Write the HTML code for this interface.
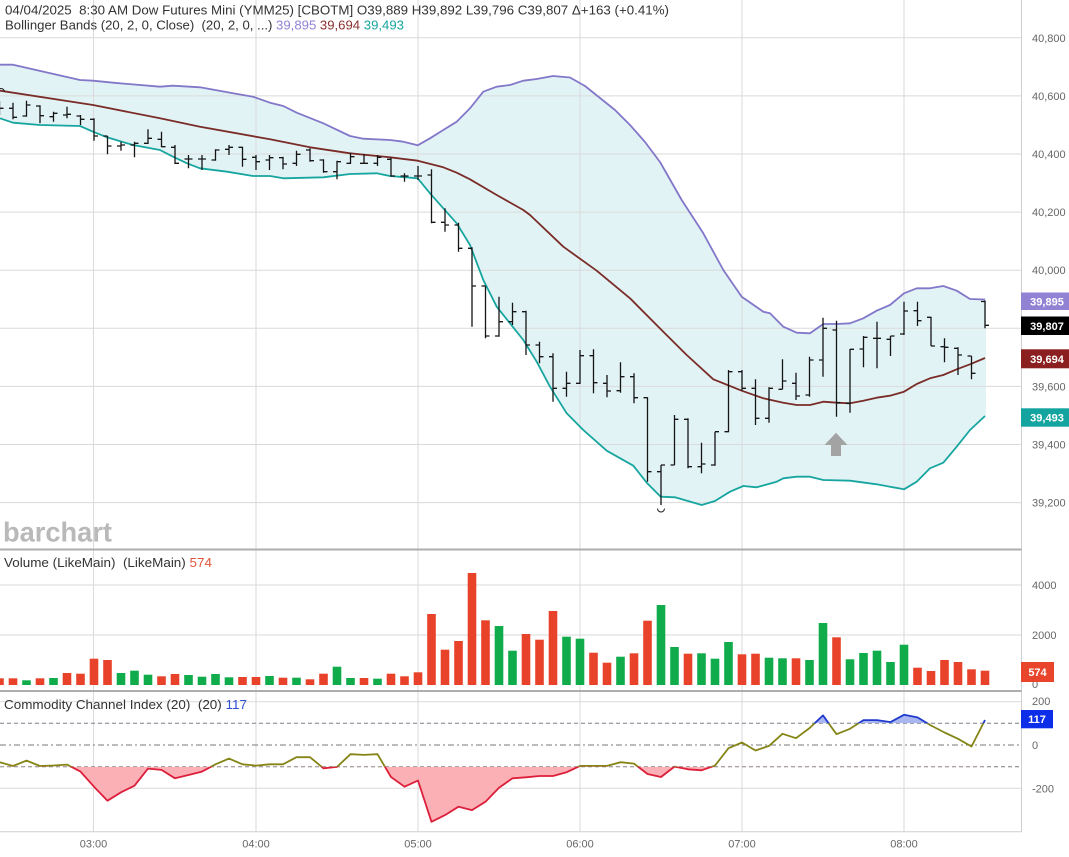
<!DOCTYPE html>
<html><head><meta charset="utf-8"><style>
html,body{margin:0;padding:0;background:#fff;}
svg{display:block;}
text{font-family:"Liberation Sans",sans-serif;}
</style></head><body>
<svg width="1069" height="857" viewBox="0 0 1069 857" xmlns="http://www.w3.org/2000/svg">
<defs>
<clipPath id="plot"><rect x="0" y="0" width="1021.5" height="548"/></clipPath>
<clipPath id="cOl"><rect x="0" y="723.3" width="1021.5" height="43.4"/></clipPath>
<clipPath id="cRd"><rect x="0" y="766.7" width="1021.5" height="65"/></clipPath>
<clipPath id="cBl"><rect x="0" y="692" width="1021.5" height="31.3"/></clipPath>
</defs>
<rect width="1069" height="857" fill="#fff"/>

<!-- band fill -->
<g clip-path="url(#plot)">
<polygon fill="#e2f3f5" points="0,64.7 13,64.7 80,80 93,80.7 113,82.7 160,86.7 173,85.7 200,87.3 233,93.3 253,96.7 270,102.7 283.3,106 296.7,112.7 323.3,123.3 350,136 363.3,138.7 390,140 403.3,141.7 417.7,145.3 430,138.3 443.3,130 456.7,121.7 470,108.3 483.3,91.7 496.7,86.7 510,85 523.3,80.7 536.7,79 553,76 570,77.5 585,86 600,98 615,110 630,125 645,142 660,162 672,183 681.7,200 703.3,233.3 723.3,270 741.7,296.7 763.3,311.7 770,313.3 783.3,326.7 796.7,332.7 810,333.3 823.3,324 836.7,324 850,323.3 863.3,318.3 876.7,310.7 890,305 904,293.3 916.7,288.3 930,288.3 943.3,286 956.7,290.7 970,299 986,299.5 986,416 970,430 956.7,446.7 943.3,462.7 930,468.3 916.7,481.7 904,489.3 876.7,484.3 850,480.7 823.3,480 810,476.7 796.7,476.7 783.3,478.3 776.7,481.7 756.7,487.3 743.3,486 730,491.7 715,501 701.7,505 675,497.3 660.7,496.7 646.7,482.7 633.3,465.7 606.7,450.7 583.3,430 566.7,413.3 550,386.7 536.7,361.7 523.3,340 510,323.3 496.7,306.7 483.3,280 470,245 456.7,223.3 443.3,208.3 430,193.3 417.7,178.3 390,176 376.7,173.3 350,174 323.3,177.3 283.3,178.3 270,176 253,176 227,171.7 200,168.3 187,163.3 173,156.7 160,150 133,145 107,137.3 93,131.7 80,126 40,125 13,122.7 0,118.3"/>
</g>

<!-- grid -->
<g stroke="#dadada" stroke-width="1">
<line x1="93.5" y1="0" x2="93.5" y2="832"/>
<line x1="256" y1="0" x2="256" y2="832"/>
<line x1="418" y1="0" x2="418" y2="832"/>
<line x1="580" y1="0" x2="580" y2="832"/>
<line x1="742" y1="0" x2="742" y2="832"/>
<line x1="904" y1="0" x2="904" y2="832"/>
<line x1="0" y1="37.8" x2="1021.5" y2="37.8"/>
<line x1="0" y1="95.9" x2="1021.5" y2="95.9"/>
<line x1="0" y1="154" x2="1021.5" y2="154"/>
<line x1="0" y1="212.1" x2="1021.5" y2="212.1"/>
<line x1="0" y1="270.2" x2="1021.5" y2="270.2"/>
<line x1="0" y1="328.3" x2="1021.5" y2="328.3"/>
<line x1="0" y1="386.4" x2="1021.5" y2="386.4"/>
<line x1="0" y1="444.5" x2="1021.5" y2="444.5"/>
<line x1="0" y1="502.6" x2="1021.5" y2="502.6"/>
<line x1="0" y1="585" x2="1021.5" y2="585"/>
<line x1="0" y1="635" x2="1021.5" y2="635"/>
<line x1="0" y1="701.7" x2="1021.5" y2="701.7"/>
<line x1="0" y1="788.3" x2="1021.5" y2="788.3"/>
</g>
<line x1="0" y1="831.7" x2="1021.5" y2="831.7" stroke="#cfcfcf" stroke-width="1"/>
<line x1="1021.5" y1="0" x2="1021.5" y2="832" stroke="#cfcfcf" stroke-width="1"/>
<line x1="0" y1="549.5" x2="1021.5" y2="549.5" stroke="#adadad" stroke-width="2"/>
<line x1="0" y1="691" x2="1021.5" y2="691" stroke="#adadad" stroke-width="2"/>

<!-- bollinger lines -->
<g clip-path="url(#plot)" fill="none" stroke-width="1.8" stroke-linejoin="round">
<polyline stroke="#8277c9" points="0,64.7 13,64.7 80,80 93,80.7 113,82.7 160,86.7 173,85.7 200,87.3 233,93.3 253,96.7 270,102.7 283.3,106 296.7,112.7 323.3,123.3 350,136 363.3,138.7 390,140 403.3,141.7 417.7,145.3 430,138.3 443.3,130 456.7,121.7 470,108.3 483.3,91.7 496.7,86.7 510,85 523.3,80.7 536.7,79 553,76 570,77.5 585,86 600,98 615,110 630,125 645,142 660,162 672,183 681.7,200 703.3,233.3 723.3,270 741.7,296.7 763.3,311.7 770,313.3 783.3,326.7 796.7,332.7 810,333.3 823.3,324 836.7,324 850,323.3 863.3,318.3 876.7,310.7 890,305 904,293.3 916.7,288.3 930,288.3 943.3,286 956.7,290.7 970,299 985,299.5"/>
<polyline stroke="#7a2c28" points="0,90.7 93,105 160,118.3 200,126.7 270,139.3 310,147.3 350,153.3 390,157.3 417.7,160.7 443.3,167.3 456.7,172.7 470,179.3 496.7,195 523.3,210 530,215 563.3,246.7 596.7,270.7 630,298.3 663.3,331.7 686.7,355 713.3,379.3 741.7,390.7 763.3,398.3 783.3,402.7 796.7,405 810,405 823.3,401.7 836.7,402.7 850,403.3 863.3,400.7 876.7,397.7 890,395.7 904,391.7 916.7,384 930,378.3 943.3,375 956.7,369.3 970,364.3 985,358"/>
<polyline stroke="#17a5a0" points="0,118.3 13,122.7 40,125 80,126 93,131.7 107,137.3 133,145 160,150 173,156.7 187,163.3 200,168.3 227,171.7 253,176 270,176 283.3,178.3 323.3,177.3 350,174 376.7,173.3 390,176 417.7,178.3 430,193.3 443.3,208.3 456.7,223.3 470,245 483.3,280 496.7,306.7 510,323.3 523.3,340 536.7,361.7 550,386.7 566.7,413.3 583.3,430 606.7,450.7 633.3,465.7 646.7,482.7 660.7,496.7 675,497.3 701.7,505 715,501 730,491.7 743.3,486 756.7,487.3 776.7,481.7 783.3,478.3 796.7,476.7 810,476.7 823.3,480 850,480.7 876.7,484.3 904,489.3 916.7,481.7 930,468.3 943.3,462.7 956.7,446.7 970,430 985,416"/>
</g>

<!-- price bars -->
<path clip-path="url(#plot)" fill="none" stroke="#151515" stroke-width="1.3" d="M-0.5 101V115M-0.5 108.3H3.5
M13 102.7V119.3M9 108.3H13M13 117.3H17
M26.5 100.7V116.7M22.5 116H26.5M26.5 105H30.5
M40 105.3V123.3M36 106H40M40 115.7H44
M53.5 111.7V121.7M49.5 116.7H53.5M53.5 113.3H57.5
M67 106.7V118.3M63 115H67M67 114.3H71
M80.5 115V125M76.5 116H80.5M80.5 119.3H84.5
M94 118.3V140.7M90 119.3H94M94 136H98
M107.5 136V154.3M103.5 136H107.5M107.5 146H111.5
M121 141.7V150.7M117 146H121M121 145H125
M134.5 141.7V157.3M130.5 145H134.5M134.5 143.3H138.5
M148 129.3V144M144 143.3H148M148 138.3H152
M161.5 131.7V147.3M157.5 139.3H161.5M161.5 146.7H165.5
M175 145V164M171 147.3H175M175 163.3H179
M188.5 155V168.3M184.5 159H188.5M188.5 159H192.5
M202 155V170M198 159H202M202 159H206
M215.5 149.3V160.7M211.5 160H215.5M215.5 150H219.5
M229 145V155M225 149.3H229M229 147.3H233
M242.5 146.7V166.7M238.5 147.3H242.5M242.5 159.3H246.5
M256 155V170M252 157.3H256M256 161.7H260
M269.5 155V170M265.5 160H269.5M269.5 157.7H273.5
M283 156.7V169.3M279 157.7H283M283 164H287
M296.5 150.7V166M292.5 163.3H296.5M296.5 154.3H300.5
M310 148.3V161.7M306 150H310M310 160.7H314
M323.5 159.3V172.7M319.5 160H323.5M323.5 171.7H327.5
M337 160.7V179.3M333 171.7H337M337 161.7H341
M350.5 152.7V164M346.5 163.3H350.5M350.5 156.7H354.5
M364 154V164M360 163.3H364M364 163.3H368
M377.5 155V166M373.5 163.3H377.5M377.5 157.3H381.5
M391 157.7V176.7M387 159.3H391M391 176H395
M404.5 173.3V181.7M400.5 176H404.5M404.5 176H408.5
M418 166V180M414 176H418M418 176H422
M431.5 169.3V223.3M427.5 175H431.5M431.5 222.3H435.5
M445 208.3V231.7M441 222.3H445M445 225H449
M458.5 222.7V251.7M454.5 225H458.5M458.5 248.3H462.5
M472 247.3V326.7M468 248.3H472M472 286H476
M485.5 286V338.3M481.5 286H485.5M485.5 336H489.5
M499 296.7V336.7M495 336H499M499 321.7H503
M512.5 302.7V325M508.5 321.7H512.5M512.5 311.7H516.5
M526 310.7V355M522 311.7H526M526 345H530
M539.5 341.7V363.3M535.5 345H539.5M539.5 356.7H543.5
M553 353.3V401.7M549 356.7H553M553 388.3H557
M566.5 371.7V396.7M562.5 388.3H566.5M566.5 383.3H570.5
M580 350V384M576 383.3H580M580 355.7H584
M593.5 349.3V393.3M589.5 355.7H593.5M593.5 382.7H597.5
M607 375V397.3M603 383.3H607M607 391H611
M620.5 362.3V392.7M616.5 390.7H620.5M620.5 376.7H624.5
M634 373.3V403.3M630 376.7H634M634 397.7H638
M647.5 397.3V481.7M643.5 397.7H647.5M647.5 471.7H651.5
M661 465V505M657 471.7H661M661 465H665
M674.5 415V465M670.5 465H674.5M674.5 419.3H678.5
M688 418.3V468.3M684 419.3H688M688 466.7H692
M701.5 442.7V473.3M697.5 466.7H701.5M701.5 464H705.5
M715 431.7V465.7M711 465H715M715 431.7H719
M728.5 370V432.3M724.5 431.7H728.5M728.5 371.7H732.5
M742 370V390.7M738 371.7H742M742 388.3H746
M755.5 379.3V425M751.5 388.3H755.5M755.5 418.3H759.5
M769 387.3V422.7M765 418.3H769M769 388.3H773
M782.5 359.3V389.3M778.5 389.3H782.5M782.5 381H786.5
M796 372.7V400M792 383.3H796M796 396H800
M809.5 356.7V396.7M805.5 395H809.5M809.5 360H813.5
M823 317.7V376.7M819 360H823M823 328.3H827
M836.5 320.7V416.7M832.5 330H836.5M836.5 402.7H840.5
M850 349V412.7M846 403.3H850M850 349.3H854
M863.5 336V367.3M859.5 349H863.5M863.5 337.3H867.5
M877 321.7V368.3M873 338.3H877M877 338.3H881
M890.5 336V356M886.5 339.3H890.5M890.5 336H894.5
M904 301.7V335M900 334H904M904 311H908
M917.5 301.7V326M913.5 310.7H917.5M917.5 320.7H921.5
M931 316.7V346M927 317.3H931M931 346H935
M944.5 338.3V362.3M940.5 346.7H944.5M944.5 347.3H948.5
M958 347.3V375M954 348.3H958M958 355H962
M971.5 356V379.3M967.5 356H971.5M971.5 373.3H975.5
M985 300.5V328.3M981 301.5H985M985 325.3H989"/>
<path d="M657.5 508.5 A3.5 3.5 0 0 0 664.5 508.5" fill="none" stroke="#222" stroke-width="1"/>
<path d="M-2.5 92 A3.5 3.5 0 0 1 4.5 92" fill="none" stroke="#222" stroke-width="1"/>
<!-- arrow -->
<polygon fill="#a3a3a3" points="836,432.7 847.5,445 841,445 841,456 831,456 831,445 824.5,445"/>

<!-- logo -->
<text x="3" y="541.7" font-size="28" font-weight="bold" fill="#b9b9b9" textLength="109" lengthAdjust="spacingAndGlyphs">barchart</text>

<!-- volume bars -->
<g fill="#e8432a">
<rect x="-4.8" y="678.3" width="8.6" height="6.7"/>
<rect x="8.7" y="678.3" width="8.6" height="6.7"/>
<rect x="35.7" y="678.3" width="8.6" height="6.7"/>
<rect x="62.7" y="673" width="8.6" height="12"/>
<rect x="76.2" y="673.7" width="8.6" height="11.3"/>
<rect x="89.7" y="658.7" width="8.6" height="26.3"/>
<rect x="103.2" y="660" width="8.6" height="25"/>
<rect x="157.2" y="676.3" width="8.6" height="8.7"/>
<rect x="170.7" y="674" width="8.6" height="11"/>
<rect x="238.2" y="677" width="8.6" height="8"/>
<rect x="251.7" y="677" width="8.6" height="8"/>
<rect x="278.7" y="677.7" width="8.6" height="7.3"/>
<rect x="305.7" y="679.3" width="8.6" height="5.7"/>
<rect x="319.2" y="673.7" width="8.6" height="11.3"/>
<rect x="359.7" y="678" width="8.6" height="7"/>
<rect x="386.7" y="673.7" width="8.6" height="11.3"/>
<rect x="400.2" y="676.3" width="8.6" height="8.7"/>
<rect x="413.7" y="672.3" width="8.6" height="12.7"/>
<rect x="427.2" y="614" width="8.6" height="71"/>
<rect x="440.7" y="649.7" width="8.6" height="35.3"/>
<rect x="454.2" y="641" width="8.6" height="44"/>
<rect x="467.7" y="573" width="8.6" height="112"/>
<rect x="481.2" y="620.3" width="8.6" height="64.7"/>
<rect x="521.7" y="634" width="8.6" height="51"/>
<rect x="535.2" y="639.7" width="8.6" height="45.3"/>
<rect x="548.7" y="611" width="8.6" height="74"/>
<rect x="589.2" y="652.7" width="8.6" height="32.3"/>
<rect x="602.7" y="662.7" width="8.6" height="22.3"/>
<rect x="629.7" y="653.3" width="8.6" height="31.7"/>
<rect x="643.2" y="620.7" width="8.6" height="64.3"/>
<rect x="683.7" y="653.7" width="8.6" height="31.3"/>
<rect x="737.7" y="654.3" width="8.6" height="30.7"/>
<rect x="751.2" y="653.7" width="8.6" height="31.3"/>
<rect x="791.7" y="658.3" width="8.6" height="26.7"/>
<rect x="832.2" y="637.3" width="8.6" height="47.7"/>
<rect x="913.2" y="667.7" width="8.6" height="17.3"/>
<rect x="926.7" y="671" width="8.6" height="14"/>
<rect x="940.2" y="660" width="8.6" height="25"/>
<rect x="953.7" y="662" width="8.6" height="23"/>
<rect x="967.2" y="669.3" width="8.6" height="15.7"/>
<rect x="980.7" y="670.7" width="8.6" height="14.3"/>
</g>
<g fill="#10ab4a">
<rect x="22.2" y="680.3" width="8.6" height="4.7"/>
<rect x="49.2" y="678" width="8.6" height="7"/>
<rect x="116.7" y="673" width="8.6" height="12"/>
<rect x="130.2" y="670.7" width="8.6" height="14.3"/>
<rect x="143.7" y="674.7" width="8.6" height="10.3"/>
<rect x="184.2" y="675" width="8.6" height="10"/>
<rect x="197.7" y="676.7" width="8.6" height="8.3"/>
<rect x="211.2" y="674" width="8.6" height="11"/>
<rect x="224.7" y="677.3" width="8.6" height="7.7"/>
<rect x="265.2" y="676" width="8.6" height="9"/>
<rect x="292.2" y="677.7" width="8.6" height="7.3"/>
<rect x="332.7" y="666.7" width="8.6" height="18.3"/>
<rect x="346.2" y="678" width="8.6" height="7"/>
<rect x="373.2" y="678.7" width="8.6" height="6.3"/>
<rect x="494.7" y="626" width="8.6" height="59"/>
<rect x="508.2" y="650.7" width="8.6" height="34.3"/>
<rect x="562.2" y="636.7" width="8.6" height="48.3"/>
<rect x="575.7" y="638.7" width="8.6" height="46.3"/>
<rect x="616.2" y="656.7" width="8.6" height="28.3"/>
<rect x="656.7" y="605" width="8.6" height="80"/>
<rect x="670.2" y="647" width="8.6" height="38"/>
<rect x="697.2" y="653.3" width="8.6" height="31.7"/>
<rect x="710.7" y="658.7" width="8.6" height="26.3"/>
<rect x="724.2" y="642" width="8.6" height="43"/>
<rect x="764.7" y="657.7" width="8.6" height="27.3"/>
<rect x="778.2" y="658.3" width="8.6" height="26.7"/>
<rect x="805.2" y="660" width="8.6" height="25"/>
<rect x="818.7" y="623" width="8.6" height="62"/>
<rect x="845.7" y="659.3" width="8.6" height="25.7"/>
<rect x="859.2" y="653" width="8.6" height="32"/>
<rect x="872.7" y="650.7" width="8.6" height="34.3"/>
<rect x="886.2" y="662" width="8.6" height="23"/>
<rect x="899.7" y="644.7" width="8.6" height="40.3"/>
</g>

<!-- CCI reference lines -->
<line x1="0" y1="723.3" x2="1021.5" y2="723.3" stroke="#7a7a7a" stroke-width="1" stroke-dasharray="4,3"/>
<line x1="0" y1="745" x2="1021.5" y2="745" stroke="#7a7a7a" stroke-width="1" stroke-dasharray="6,3,2,3"/>
<line x1="0" y1="766.7" x2="1021.5" y2="766.7" stroke="#7a7a7a" stroke-width="1" stroke-dasharray="4,3"/>

<!-- CCI fills -->
<polygon clip-path="url(#cRd)" fill="#fbb0b6" points="-0.5,762.2 13,766 26.5,760.6 40,766 53.5,765.5 67,764.6 80.5,771.6 94,786.7 107.5,800.7 121,792.3 134.5,785.7 148,768.6 161.5,769.9 175,778.3 188.5,775 202,771.6 215.5,764.3 229,758.6 242.5,764.3 256,765.6 269.5,764.3 283,764.3 296.5,757.2 310,757.2 323.5,768.3 337,766.9 350.5,754.2 364,754.9 377.5,754.2 391,777 404.5,786.7 418,780.6 431.5,821.8 445,815.1 458.5,806.7 472,810.1 485.5,801.7 499,787.7 512.5,778.3 526,777.3 539.5,776 553,776 566.5,772.3 580,765.9 593.5,765.9 607,765.9 620.5,762.2 634,763.6 647.5,774 661,777 674.5,766.6 688,769.3 701.5,770.3 715,765.6 728.5,748.2 742,742.5 755.5,750.5 769,745.9 782.5,733.8 796,738.2 809.5,728.1 823,715.4 836.5,734.2 850,728.8 863.5,720.1 877,720.1 890.5,722.1 904,714.8 917.5,717.4 931,725.5 944.5,732.5 958,738.8 971.5,746.5 985,720 985,766.7 -0.5,766.7"/>
<polygon clip-path="url(#cBl)" fill="#a9b6ef" points="-0.5,762.2 13,766 26.5,760.6 40,766 53.5,765.5 67,764.6 80.5,771.6 94,786.7 107.5,800.7 121,792.3 134.5,785.7 148,768.6 161.5,769.9 175,778.3 188.5,775 202,771.6 215.5,764.3 229,758.6 242.5,764.3 256,765.6 269.5,764.3 283,764.3 296.5,757.2 310,757.2 323.5,768.3 337,766.9 350.5,754.2 364,754.9 377.5,754.2 391,777 404.5,786.7 418,780.6 431.5,821.8 445,815.1 458.5,806.7 472,810.1 485.5,801.7 499,787.7 512.5,778.3 526,777.3 539.5,776 553,776 566.5,772.3 580,765.9 593.5,765.9 607,765.9 620.5,762.2 634,763.6 647.5,774 661,777 674.5,766.6 688,769.3 701.5,770.3 715,765.6 728.5,748.2 742,742.5 755.5,750.5 769,745.9 782.5,733.8 796,738.2 809.5,728.1 823,715.4 836.5,734.2 850,728.8 863.5,720.1 877,720.1 890.5,722.1 904,714.8 917.5,717.4 931,725.5 944.5,732.5 958,738.8 971.5,746.5 985,720 985,723.3 -0.5,723.3"/>

<!-- CCI line -->
<g fill="none" stroke-width="1.8" stroke-linejoin="round">
<polyline id="cci" clip-path="url(#cOl)" stroke="#858516" points="-0.5,762.2 13,766 26.5,760.6 40,766 53.5,765.5 67,764.6 80.5,771.6 94,786.7 107.5,800.7 121,792.3 134.5,785.7 148,768.6 161.5,769.9 175,778.3 188.5,775 202,771.6 215.5,764.3 229,758.6 242.5,764.3 256,765.6 269.5,764.3 283,764.3 296.5,757.2 310,757.2 323.5,768.3 337,766.9 350.5,754.2 364,754.9 377.5,754.2 391,777 404.5,786.7 418,780.6 431.5,821.8 445,815.1 458.5,806.7 472,810.1 485.5,801.7 499,787.7 512.5,778.3 526,777.3 539.5,776 553,776 566.5,772.3 580,765.9 593.5,765.9 607,765.9 620.5,762.2 634,763.6 647.5,774 661,777 674.5,766.6 688,769.3 701.5,770.3 715,765.6 728.5,748.2 742,742.5 755.5,750.5 769,745.9 782.5,733.8 796,738.2 809.5,728.1 823,715.4 836.5,734.2 850,728.8 863.5,720.1 877,720.1 890.5,722.1 904,714.8 917.5,717.4 931,725.5 944.5,732.5 958,738.8 971.5,746.5 985,720"/>
<polyline clip-path="url(#cRd)" stroke="#dc1f3a" points="-0.5,762.2 13,766 26.5,760.6 40,766 53.5,765.5 67,764.6 80.5,771.6 94,786.7 107.5,800.7 121,792.3 134.5,785.7 148,768.6 161.5,769.9 175,778.3 188.5,775 202,771.6 215.5,764.3 229,758.6 242.5,764.3 256,765.6 269.5,764.3 283,764.3 296.5,757.2 310,757.2 323.5,768.3 337,766.9 350.5,754.2 364,754.9 377.5,754.2 391,777 404.5,786.7 418,780.6 431.5,821.8 445,815.1 458.5,806.7 472,810.1 485.5,801.7 499,787.7 512.5,778.3 526,777.3 539.5,776 553,776 566.5,772.3 580,765.9 593.5,765.9 607,765.9 620.5,762.2 634,763.6 647.5,774 661,777 674.5,766.6 688,769.3 701.5,770.3 715,765.6 728.5,748.2 742,742.5 755.5,750.5 769,745.9 782.5,733.8 796,738.2 809.5,728.1 823,715.4 836.5,734.2 850,728.8 863.5,720.1 877,720.1 890.5,722.1 904,714.8 917.5,717.4 931,725.5 944.5,732.5 958,738.8 971.5,746.5 985,720"/>
<polyline clip-path="url(#cBl)" stroke="#1f3bcf" points="-0.5,762.2 13,766 26.5,760.6 40,766 53.5,765.5 67,764.6 80.5,771.6 94,786.7 107.5,800.7 121,792.3 134.5,785.7 148,768.6 161.5,769.9 175,778.3 188.5,775 202,771.6 215.5,764.3 229,758.6 242.5,764.3 256,765.6 269.5,764.3 283,764.3 296.5,757.2 310,757.2 323.5,768.3 337,766.9 350.5,754.2 364,754.9 377.5,754.2 391,777 404.5,786.7 418,780.6 431.5,821.8 445,815.1 458.5,806.7 472,810.1 485.5,801.7 499,787.7 512.5,778.3 526,777.3 539.5,776 553,776 566.5,772.3 580,765.9 593.5,765.9 607,765.9 620.5,762.2 634,763.6 647.5,774 661,777 674.5,766.6 688,769.3 701.5,770.3 715,765.6 728.5,748.2 742,742.5 755.5,750.5 769,745.9 782.5,733.8 796,738.2 809.5,728.1 823,715.4 836.5,734.2 850,728.8 863.5,720.1 877,720.1 890.5,722.1 904,714.8 917.5,717.4 931,725.5 944.5,732.5 958,738.8 971.5,746.5 985,720"/>
</g>

<!-- header texts -->
<text x="5" y="14.5" font-size="13" fill="#333" style="white-space:pre" textLength="664" lengthAdjust="spacingAndGlyphs">04/04/2025  8:30 AM Dow Futures Mini (YMM25) [CBOTM] O39,889 H39,892 L39,796 C39,807 Δ+163 (+0.41%)</text>
<text x="5" y="29.5" font-size="13" fill="#333" style="white-space:pre" textLength="399" lengthAdjust="spacingAndGlyphs">Bollinger Bands (20, 2, 0, Close)  (20, 2, 0, ...) <tspan fill="#9282d4">39,895</tspan> <tspan fill="#8b3030">39,694</tspan> <tspan fill="#17a5a0">39,493</tspan></text>
<text x="4" y="567" font-size="13" fill="#333" style="white-space:pre" textLength="208" lengthAdjust="spacingAndGlyphs">Volume (LikeMain)  (LikeMain) <tspan fill="#e0553a">574</tspan></text>
<text x="4" y="709" font-size="13" fill="#333" style="white-space:pre" textLength="243" lengthAdjust="spacingAndGlyphs">Commodity Channel Index (20)  (20) <tspan fill="#2f4fcf">117</tspan></text>

<!-- right axis labels -->
<g font-size="11" fill="#666">
<text x="1032" y="41.8">40,800</text>
<text x="1032" y="99.9">40,600</text>
<text x="1032" y="158">40,400</text>
<text x="1032" y="216.1">40,200</text>
<text x="1032" y="274.2">40,000</text>
<text x="1032" y="390.4">39,600</text>
<text x="1032" y="448.5">39,400</text>
<text x="1032" y="506.6">39,200</text>
<text x="1032" y="589">4000</text>
<text x="1032" y="639">2000</text>
<text x="1032" y="688">0</text>
<text x="1032" y="705">200</text>
<text x="1032" y="749">0</text>
<text x="1032" y="792.3">-200</text>
</g>
<rect x="1021" y="292.5" width="48" height="17.5" fill="#9282d4"/>
<rect x="1021" y="316.5" width="48" height="18.5" fill="#000"/>
<rect x="1021" y="349.3" width="48" height="19" fill="#8b1f1f"/>
<rect x="1021" y="408.3" width="48" height="18.4" fill="#14a4a0"/>
<rect x="1021" y="662" width="33" height="20" fill="#e8452c"/>
<rect x="1021" y="710" width="32" height="18.3" fill="#0d2ee8"/>
<g font-size="11" font-weight="bold" fill="#fff" text-anchor="middle">
<text x="1047" y="305.3">39,895</text>
<text x="1047" y="329.8">39,807</text>
<text x="1047" y="362.8">39,694</text>
<text x="1047" y="421.5">39,493</text>
<text x="1037.5" y="676">574</text>
<text x="1037" y="723.2">117</text>
</g>

<!-- time axis -->
<g font-size="11" fill="#666" text-anchor="middle">
<text x="93.5" y="847.5">03:00</text>
<text x="256" y="847.5">04:00</text>
<text x="418" y="847.5">05:00</text>
<text x="580" y="847.5">06:00</text>
<text x="742" y="847.5">07:00</text>
<text x="904" y="847.5">08:00</text>
</g>
</svg>
</body></html>
